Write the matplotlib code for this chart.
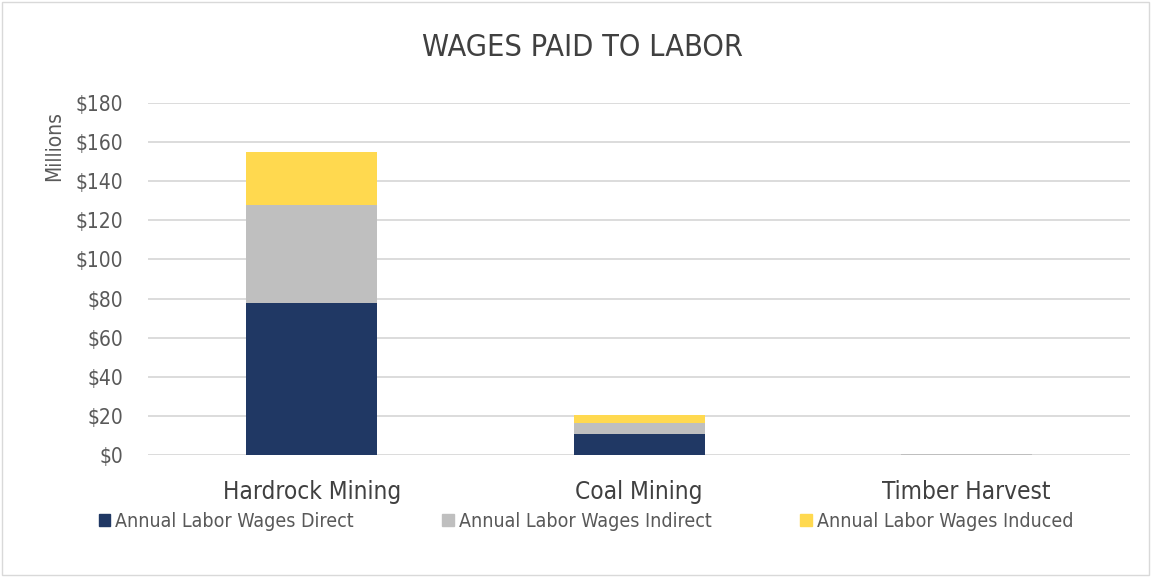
import numpy as np
import matplotlib
matplotlib.use('Agg')
from matplotlib import pyplot as plt
from matplotlib.patches import Patch

plt.rcParams['font.family'] = ['DejaVu Sans']
plt.rcParams['font.stretch'] = 'condensed'

categories = ['Hardrock Mining', 'Coal Mining', 'Timber Harvest']
direct = [77.6, 10.6, 0.25]
indirect = [50.2, 5.8, 0.15]
induced = [27.1, 3.9, 0.1]
series_names = ['Annual Labor Wages Direct', 'Annual Labor Wages Indirect', 'Annual Labor Wages Induced']
colors = ['#203864', '#bfbfbf', '#ffd94f']
yticks = [0, 20, 40, 60, 80, 100, 120, 140, 160, 180]

fig = plt.figure(figsize=(11.51, 5.77), dpi=100)
ax = fig.add_axes([0.1286, 0.2114, 0.8534, 0.6101])

x = np.arange(len(categories))
w = 0.4
ax.bar(x, direct, w, color=colors[0], zorder=3)
ax.bar(x, indirect, w, bottom=direct, color=colors[1], zorder=3)
bottom2 = np.array(direct) + np.array(indirect)
ax.bar(x, induced, w, bottom=bottom2, color=colors[2], zorder=3)

ax.set_xlim(-0.5, 2.5)
ax.set_ylim(0, 180)
ax.set_yticks(yticks)
ax.set_yticklabels(['$' + str(v) for v in yticks], fontsize=15, color='#595959')
ax.set_xticks(x)
ax.set_xticklabels(categories, fontsize=17.5, color='#404040')
ax.tick_params(axis='both', length=0)
ax.tick_params(axis='y', pad=18)
ax.tick_params(axis='x', pad=18)
ax.grid(axis='y', color='#d9d9d9', linewidth=1.3, zorder=0)
for s in ['top', 'right', 'left', 'bottom']:
    ax.spines[s].set_visible(False)

fig.text(0.047, 0.747, 'Millions', rotation=90, fontsize=15, color='#595959', ha='center', va='center')
fig.text(0.506, 0.917, 'WAGES PAID TO LABOR', fontsize=22, color='#404040', ha='center', va='center')

handles = [Patch(color=c) for c in colors]
leg = fig.legend(handles, series_names, loc='center', bbox_to_anchor=(0.509, 0.097), ncol=3,
                 frameon=False, fontsize=14, handlelength=0.6, handleheight=0.6,
                 handletextpad=0.25, columnspacing=4.55, labelcolor='#595959')

fig.patches.append(plt.Rectangle((0.002, 0.003), 0.996, 0.994, transform=fig.transFigure,
                                 fill=False, edgecolor='#d9d9d9', linewidth=1))

fig.savefig('out.png', dpi=100)
